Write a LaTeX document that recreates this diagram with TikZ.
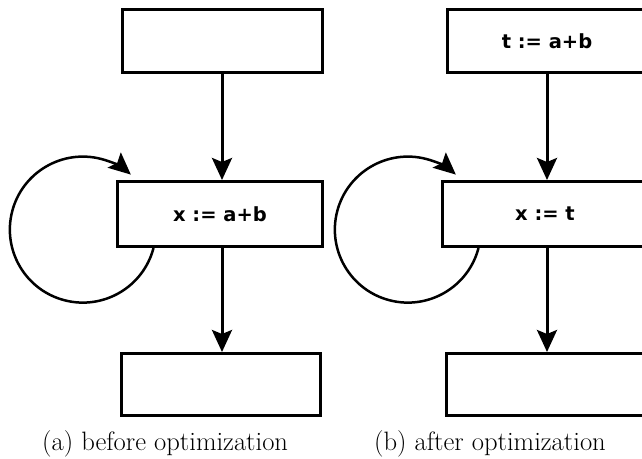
\documentclass[tikz,border=0pt]{standalone}
\usepackage{fontspec}
\newfontfamily\boxfont{DejaVu Sans}
\usetikzlibrary{arrows.meta}
\begin{document}
\begin{tikzpicture}[x=1pt,y=-1pt,
  blk/.style={draw=black,line width=3pt,fill=white,inner sep=0pt,
    font=\boxfont\bfseries\fontsize{19.5}{22}\selectfont},
  flow/.style={line width=3pt,-{Stealth[length=22pt,width=20pt,inset=4pt]}},
  loopline/.style={line width=2.5pt,-{Stealth[length=22pt,width=20pt,inset=4pt]}},
  captext/.style={anchor=base west,inner sep=0pt,font=\fontsize{26.6}{30}\selectfont}]
\useasboundingbox (0,0) rectangle (642,458);
% (a) before
\node[blk,minimum width=200pt,minimum height=63pt] (topA) at (222,41) {};
\node[blk,minimum width=205pt,minimum height=65pt] (midA) at (220,214) {x := a+b};
\node[blk,minimum width=199pt,minimum height=62pt] (botA) at (221,384.5) {};
\draw[flow] (topA.south) -- (topA.south |- midA.north);
\draw[flow] (topA.south |- midA.south) -- (topA.south |- botA.north);
\coordinate (loopA) at ([xshift=37.5pt]midA.south west);
\draw[loopline] (loopA) arc[start angle=14.6,end angle=311.1,radius=73];
\node[captext] (capA) at (42,450) {(a) before optimization};
% (b) after
\node[blk,minimum width=200pt,minimum height=63pt] (topB) at (547,41) {t := a+b};
\node[blk,minimum width=205pt,minimum height=65pt] (midB) at (545,214) {x := t};
\node[blk,minimum width=199pt,minimum height=62pt] (botB) at (546,384.5) {};
\draw[flow] (topB.south) -- (topB.south |- midB.north);
\draw[flow] (topB.south |- midB.south) -- (topB.south |- botB.north);
\coordinate (loopB) at ([xshift=37.5pt]midB.south west);
\draw[loopline] (loopB) arc[start angle=14.6,end angle=311.1,radius=73];
\node[captext] (capB) at (374,450) {(b) after optimization};
\end{tikzpicture}
\end{document}
